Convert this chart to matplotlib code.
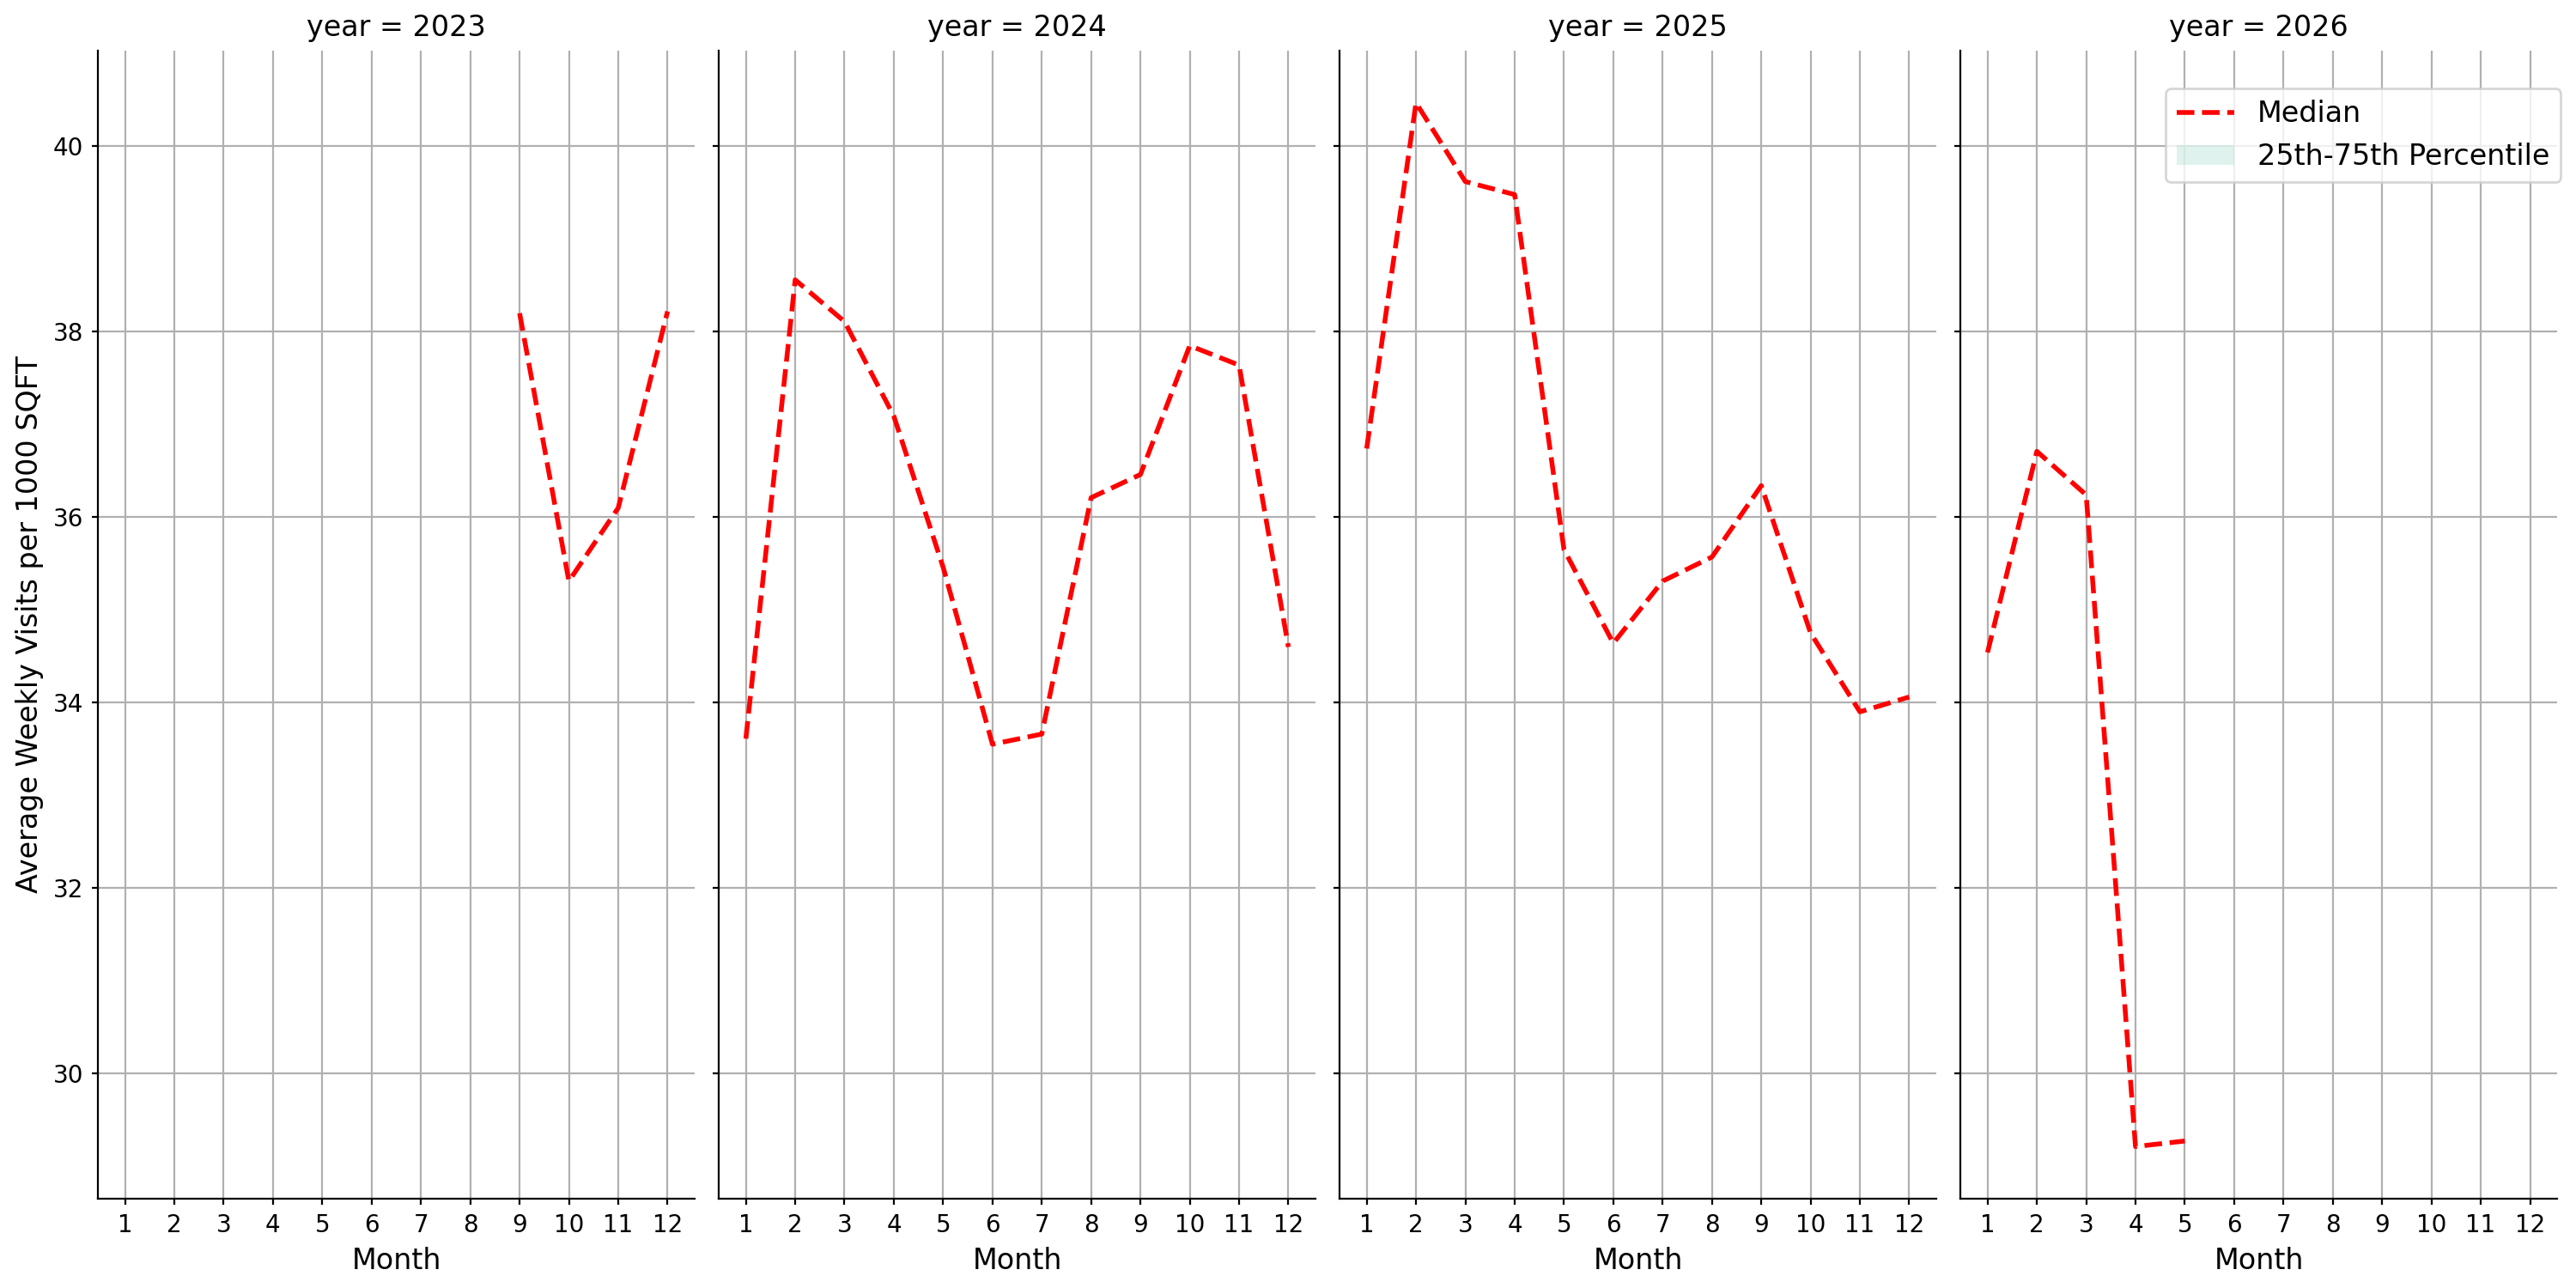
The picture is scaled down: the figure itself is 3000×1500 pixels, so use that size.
import numpy as np
import matplotlib.pyplot as plt
from matplotlib.patches import Patch

# median weekly visits per 1000 sqft
years = [2023, 2024, 2025, 2026]
months_2023 = [9, 10, 11, 12]
median_2023 = [38.20, 35.31, 36.10, 38.22]
months_2024 = [1, 2, 3, 4, 5, 6, 7, 8, 9, 10, 11, 12]
median_2024 = [33.61, 38.56, 38.11, 37.09, 35.46, 33.55, 33.66, 36.21, 36.46, 37.85, 37.64, 34.60]
months_2025 = [1, 2, 3, 4, 5, 6, 7, 8, 9, 10, 11, 12]
median_2025 = [36.74, 40.47, 39.62, 39.48, 35.65, 34.64, 35.31, 35.57, 36.34, 34.75, 33.90, 34.06]
months_2026 = [1, 2, 3, 4, 5]
median_2026 = [34.54, 36.71, 36.24, 29.21, 29.27]

all_months = [months_2023, months_2024, months_2025, months_2026]
all_median = [median_2023, median_2024, median_2025, median_2026]
month_ticks = list(range(1, 13))
band_color = '#66c2a5'

fig, axes = plt.subplots(1, 4, figsize=(15, 7.5), dpi=200, sharex=True, sharey=True)
plt.subplots_adjust(left=0.038, right=0.9927, top=0.9607, bottom=0.0693, wspace=0.0403)

for ax, yr, m, med in zip(axes, years, all_months, all_median):
    ax.plot(m, med, color='red', linestyle='--', linewidth=2, label='Median')
    ax.set_title(f'year = {yr}', fontsize=12)
    ax.set_xlabel('Month', fontsize=12)
    ax.set_xticks(month_ticks)
    ax.grid(True)
    ax.spines['top'].set_visible(False)
    ax.spines['right'].set_visible(False)
    ax.tick_params(labelsize=10, length=2.5)

axes[0].set_ylabel('Average Weekly Visits per 1000 SQFT', fontsize=12)
axes[0].set_yticks([30, 32, 34, 36, 38, 40])

handles = [axes[3].get_lines()[0], Patch(facecolor=band_color, alpha=0.2)]
axes[3].legend(handles, ['Median', '25th-75th Percentile'], fontsize=12,
               loc='upper right', bbox_to_anchor=(1.006, 0.967), borderaxespad=0)

plt.savefig('out.png', dpi=200)
